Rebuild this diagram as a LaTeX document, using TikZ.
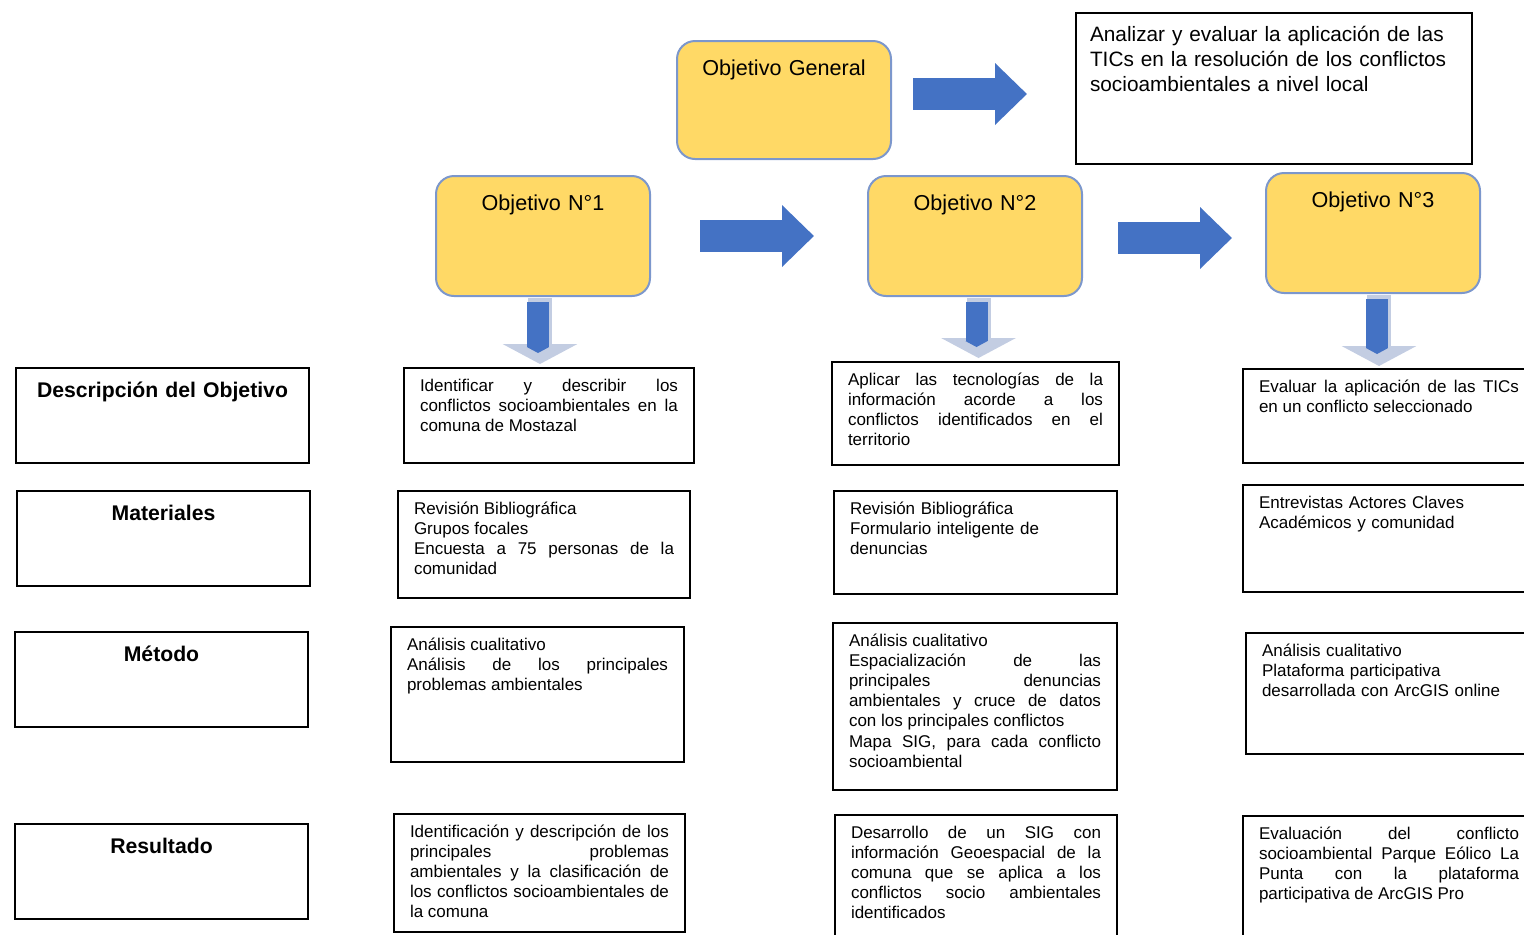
\documentclass[tikz,border=0pt]{standalone}
\usepackage{fontspec}
\setmainfont{Liberation Sans}
\usetikzlibrary{arrows.meta}
\definecolor{goldfill}{HTML}{FFD966}
\definecolor{goalline}{HTML}{7C97CC}
\definecolor{arrowblue}{HTML}{4472C4}
\definecolor{arrowpale}{HTML}{C3CDE2}
\hyphenpenalty=10000
\exhyphenpenalty=10000
\hbadness=10000
\tolerance=9999

\begin{document}
\begin{tikzpicture}[x=0.5pt,y=-0.5pt]
\tikzset{goal/.style = {draw=goalline, fill=goldfill, line width=1pt,
rounded corners=9pt, anchor=north west, inner sep=0pt, text width=107pt,
align=center, text height=17pt, text depth=43pt,
font=\fontsize{10.8}{13}\selectfont}}
\tikzset{rowlabel/.style = {draw, line width=1pt, anchor=north west,
inner sep=0pt, text width=146.5pt, align=center, text height=14.5pt,
text depth=33pt, font=\bfseries\fontsize{10.6}{13}\selectfont}}
\tikzset{cell/.style = {draw, line width=1pt, anchor=north west,
inner xsep=8pt, inner ysep=0pt, align=justify, text height=11.5pt,
font=\fontsize{8.5}{10.1}\selectfont}}
\tikzset{barrow/.style = {draw=arrowblue, line width=16pt,
-{Triangle[length=16pt,width=30pt]}}}
\tikzset{palearrow/.style = {draw=arrowpale, line width=12pt,
-{Triangle[length=10pt,width=37pt]}}}
\tikzset{bluestem/.style = {draw=arrowblue, line width=11pt,
-{Triangle[length=3pt,width=11pt]}}}
\useasboundingbox (0,0) rectangle (1524,934);
% objectives
\node[goal, text depth=42pt] (og) at (676,40) {Objetivo General};
\node[cell, align=left, text width=184pt, inner xsep=7pt, text height=14pt,
text depth=61.5pt, font=\fontsize{10.4}{12.5}\selectfont] (obj) at (1075,12)
{Analizar y evaluar la aplicación de las\\ TICs en la resolución de los conflictos\\ socioambientales a nivel local};
\node[goal] (o1) at (435,175) {Objetivo N°1};
\node[goal] (o2) at (867,175) {Objetivo N°2};
\node[goal] (o3) at (1265,172) {Objetivo N°3};
% row labels
\node[rowlabel] (ldesc) at (15,367) {Descripción del Objetivo};
\node[rowlabel] (lmat) at (16,490) {Materiales};
\node[rowlabel] (lmet) at (14,631) {Método};
\node[rowlabel] (lres) at (14,823) {Resultado};
% descriptions
\node[cell, text width=129pt, text depth=36pt] (d1) at (403,367)
{Identificar y describir los\linebreak conflictos socioambientales en la\linebreak comuna de Mostazal};
\node[cell, text width=127.5pt, text depth=40pt] (d2) at (831,361)
{Aplicar las tecnologías de la\linebreak información acorde a los\linebreak conflictos identificados en el\linebreak territorio};
\node[cell, text width=130pt, text depth=35.5pt] (d3) at (1242,368)
{Evaluar la aplicación de las TICs\linebreak en un conflicto seleccionado};
% materials
\node[cell, text width=130pt, text depth=42pt] (m1) at (397,490)
{Revisión Bibliográfica\newline Grupos focales\newline Encuesta a 75 personas de la\linebreak comunidad};
\node[cell, align=left, text width=125.5pt, text depth=40pt] (m2) at (833,490)
{Revisión Bibliográfica\\ Formulario inteligente de\\ denuncias};
\node[cell, align=left, text width=130pt, text depth=42pt] (m3) at (1242,484)
{Entrevistas Actores Claves\\ Académicos y comunidad};
% methods
\node[cell, text width=130.5pt, text depth=56pt] (t1) at (390,626)
{Análisis cualitativo\newline Análisis de los principales\linebreak problemas ambientales};
\node[cell, text width=126pt, text depth=72pt] (t2) at (832,622)
{Análisis cualitativo\newline Espacialización de las\linebreak principales denuncias\linebreak ambientales y cruce de datos\linebreak con los principales conflictos\newline Mapa SIG, para cada conflicto\linebreak socioambiental};
\node[cell, align=left, text width=130pt, text depth=49pt] (t3) at (1245,632)
{Análisis cualitativo\\ Plataforma participativa\\ desarrollada con ArcGIS online};
% results
\node[cell, text width=129.5pt, text depth=47.5pt] (r1) at (393,813)
{Identificación y descripción de los\linebreak principales problemas\linebreak ambientales y la clasificación de\linebreak los conflictos socioambientales de\linebreak la comuna};
\node[cell, text width=125pt, text depth=51pt] (r2) at (834,814)
{Desarrollo de un SIG con\linebreak información Geoespacial de la\linebreak comuna que se aplica a los\linebreak conflictos socio ambientales\linebreak identificados};
\node[cell, text width=130pt, text depth=51pt] (r3) at (1242,815)
{Evaluación del conflicto\linebreak socioambiental Parque Eólico La\linebreak Punta con la plataforma\linebreak participativa de ArcGIS Pro};
% arrows
\draw[barrow, shorten <=10.5pt, shorten >=24pt] ([yshift=3pt]og.east) -- ([yshift=3pt]og.east -| obj.west);
\draw[barrow, shorten <=24.5pt, shorten >=26.5pt] (o1.east) -- (o2.west);
\draw[barrow, shorten <=17.5pt, shorten >=16.5pt] ([yshift=-1pt]o2.east) -- ([yshift=-1pt]o2.east -| o3.west);
\draw[palearrow, shorten <=0.5pt, shorten >=1.5pt] ([xshift=-1.5pt]o1.south) -- ([xshift=-1.5pt]o1.south |- d1.north);
\draw[bluestem, shorten <=2.5pt, shorten >=7pt] ([xshift=-2.5pt]o1.south) -- ([xshift=-2.5pt]o1.south |- d1.north);
\draw[palearrow, shorten <=0.5pt, shorten >=1.5pt] ([xshift=1.75pt]o2.south) -- ([xshift=1.75pt]o2.south |- d2.north);
\draw[bluestem, shorten <=2.5pt, shorten >=7pt] ([xshift=0.75pt]o2.south) -- ([xshift=0.75pt]o2.south |- d2.north);
\draw[palearrow, shorten <=0.5pt, shorten >=1pt] ([xshift=3pt]o3.south) -- ([xshift=3pt]o3.south |- d3.north);
\draw[bluestem, shorten <=2.5pt, shorten >=7pt] ([xshift=2pt]o3.south) -- ([xshift=2pt]o3.south |- d3.north);
\end{tikzpicture}
\end{document}
